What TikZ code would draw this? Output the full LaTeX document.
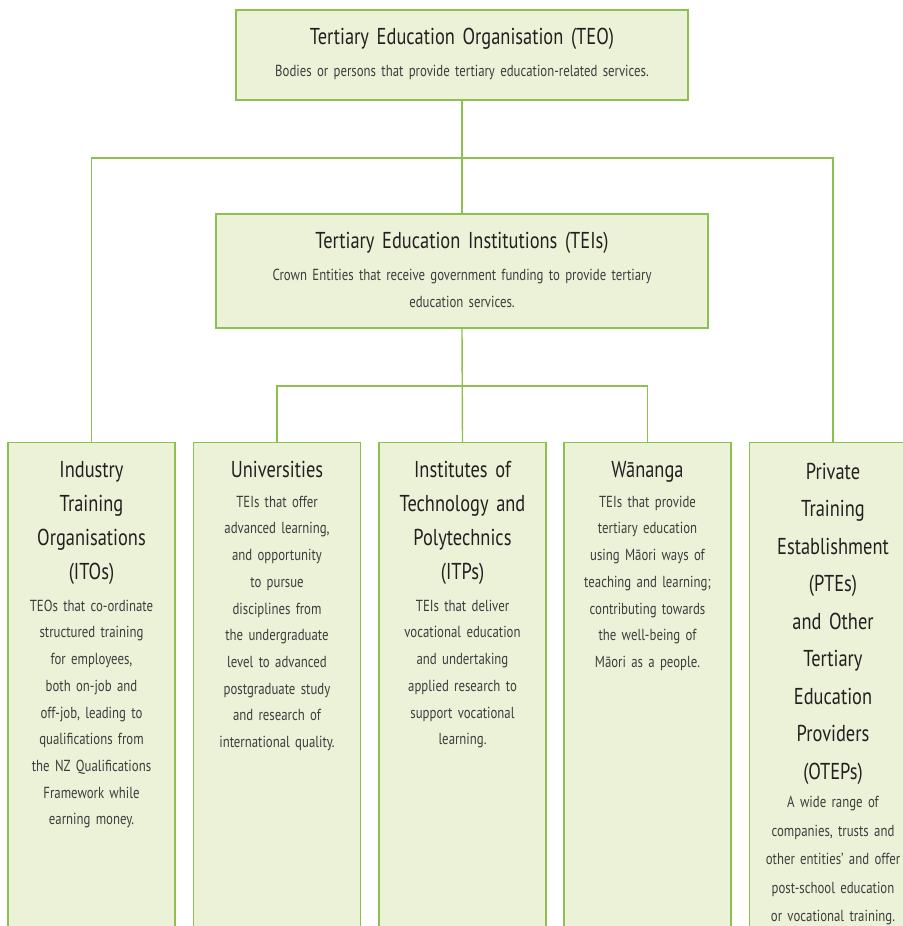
\documentclass[tikz,border=0pt]{standalone}
\usepackage{fontspec}
\setmainfont{PT Sans}[FakeStretch=0.8,WordSpace=0.5]
\usetikzlibrary{positioning}
\definecolor{leaf}{HTML}{8CC04F}
\definecolor{pale}{HTML}{ECF2D8}
\definecolor{ink}{HTML}{231F20}
\definecolor{slate}{HTML}{3D3D3D}

\begin{document}
\begin{tikzpicture}[x=1pt,y=-1pt,
  org/.style={draw=leaf,fill=pale,line width=1.4pt,inner sep=0pt},
  col/.style={org,anchor=north,minimum width=167pt,minimum height=520pt},
  head/.style={inner sep=0pt,text width=165pt,align=center,text=ink,
               font=\fontsize{23}{34}\selectfont,
               execute at begin node=\strut,execute at end node=\strut},
  body/.style={inner sep=0pt,text width=165pt,align=center,text=slate,
               font=\fontsize{16}{26.7}\selectfont,
               execute at begin node=\strut,execute at end node=\strut},
  link/.style={draw=leaf,line width=1.4pt}]
\useasboundingbox (0,0) rectangle (902,926);
% top levels
\node[org,minimum width=452pt,minimum height=90pt] (teo) at (462,55) {};
\node[head,text width=440pt,below=11pt of teo.north] (teoh) {Tertiary Education Organisation (TEO)};
\node[body,text width=440pt,below=3pt of teoh] {Bodies or persons that provide tertiary education-related services.};
\node[org,minimum width=492pt,minimum height=114pt] (tei) at (462,271) {};
\node[head,text width=480pt,below=11pt of tei.north] (teih) {Tertiary Education Institutions (TEIs)};
\node[body,text width=480pt,below=3pt of teih] {Crown Entities that receive government funding to provide tertiary\\education services.};
% columns
\node[col] (ito) at (91.5,442) {};
\node[col] (uni) at (277,442) {};
\node[col] (itp) at (462.5,442) {};
\node[col] (wan) at (647.5,442) {};
\node[col] (pte) at (833,442) {};
\node[head,below=11pt of ito.north] (itoh) {Industry\\Training\\Organisations\\(ITOs)};
\node[body,below=3pt of itoh] {TEOs that co-ordinate\\structured training\\for employees,\\both on-job and\\off-job, leading to\\qualifications from\\the NZ Qualifications\\Framework while\\earning money.};
\node[head,below=11pt of uni.north] (unih) {Universities};
\node[body,below=1pt of unih] {TEIs that offer\\advanced learning,\\and opportunity\\to pursue\\disciplines from\\the undergraduate\\level to advanced\\postgraduate study\\and research of\\international quality.};
\node[head,below=11pt of itp.north] (itph) {Institutes of\\Technology and\\Polytechnics\\(ITPs)};
\node[body,below=3pt of itph] {TEIs that deliver\\vocational education\\and undertaking\\applied research to\\support vocational\\learning.};
\node[head,below=11pt of wan.north] (wanh) {Wānanga};
\node[body,below=1pt of wanh] {TEIs that provide\\tertiary education\\using Māori ways of\\teaching and learning;\\contributing towards\\the well-being of\\Māori as a people.};
\node[head,font=\fontsize{23}{37.5}\selectfont,below=11pt of pte.north] (pteh) {Private\\Training\\Establishment\\(PTEs)\\and Other\\Tertiary\\Education\\Providers\\(OTEPs)};
\node[body,font=\fontsize{16}{28.4}\selectfont,below=-3pt of pteh] {A wide range of\\companies, trusts and\\other entities’ and offer\\post-school education\\or vocational training.};
% connectors
\coordinate (hub) at (462,158);
\coordinate (fork) at (462,386);
\draw[link] (teo.south) -- (tei.north);
\draw[link] (ito.north) |- (hub) -| (pte.north);
\draw[link] (tei.south) -- (itp.north);
\draw[link] (uni.north) |- (fork) -| (wan.north);
\end{tikzpicture}
\end{document}
